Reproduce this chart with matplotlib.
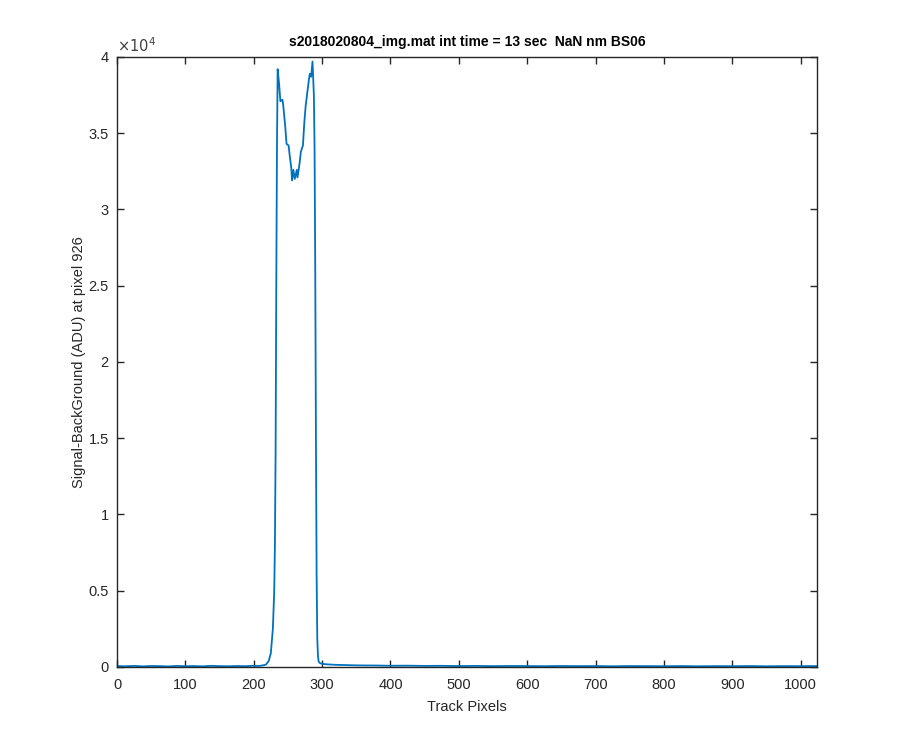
import matplotlib
matplotlib.use("Agg")
import matplotlib.pyplot as plt
from matplotlib.ticker import FuncFormatter

plt.rcParams["font.family"] = ["Liberation Sans", "DejaVu Sans"]

title = "s2018020804_img.mat int time = 13 sec  NaN nm BS06"
xlabel = "Track Pixels"
ylabel = "Signal-BackGround (ADU) at pixel 926"

# track pixel positions and signal values
pixels = [1, 12, 25, 38, 50, 63, 75, 88, 100, 113, 125, 138, 150, 163, 175,
          188, 200, 208, 214, 218, 222, 225, 228, 230, 231, 232, 233, 234,
          235, 237, 239, 242, 243, 246, 248, 251, 253, 255, 256, 258, 260,
          263, 264, 267, 269, 272, 274, 276, 279, 281, 282, 284, 286, 287,
          288, 289, 290, 291, 292, 293, 294, 295, 297, 300, 305,
          312, 320, 330, 345, 360, 380, 400, 425, 450, 475, 500, 525, 550,
          575, 600, 625, 650, 675, 700, 725, 750, 775, 800, 825, 850, 875,
          900, 925, 950, 975, 1000, 1012, 1024]
signal = [60, 45, 70, 40, 65, 55, 35, 70, 50, 60, 40, 75, 55, 45, 65,
          50, 80, 70, 110, 160, 400, 900, 2500, 5000, 8000, 14000, 25000, 34000,
          39200, 38300, 37100, 37200, 36900, 35500, 34300, 34200, 33400, 32700, 31900, 32600, 32000,
          32600, 32100, 33000, 33800, 34200, 35700, 36800, 37900, 38600, 38900, 38700, 39700, 38600,
          37500, 34000, 26000, 15000, 6000, 1800, 700, 350, 250, 210, 180,
          160, 140, 130, 110, 100, 95, 80, 85, 70, 75, 60, 70, 55,
          65, 60, 50, 65, 55, 60, 45, 60, 55, 50, 60, 45, 55,
          50, 60, 45, 55, 50, 60, 55]

fig = plt.figure(figsize=(9, 7.5), dpi=100)
ax = fig.add_axes([0.13, 0.1107, 0.7778, 0.8133])

ax.plot(pixels, signal, color="#0072BD", linewidth=1.3)

ax.set_xlim(0, 1024)
ax.set_ylim(0, 40000)
ax.set_xticks(range(0, 1001, 100))
ax.set_yticks([i * 5000 for i in range(9)])
ax.yaxis.set_major_formatter(FuncFormatter(lambda v, p: "%g" % (v / 1e4)))

ax.tick_params(direction="in", top=True, right=True, length=5, width=1,
               colors="#262626", labelsize=10.5)
ax.tick_params(axis="x", pad=8)
ax.tick_params(axis="y", pad=6)
for s in ax.spines.values():
    s.set_color("#262626")
    s.set_linewidth(1)

ax.text(0.0, 1.004, r"$\times10^{4}$", transform=ax.transAxes,
        fontsize=10.5, color="#404040", va="bottom", ha="left")
ax.set_title(title, fontsize=10, fontweight="bold", color="black", pad=8)
ax.set_xlabel(xlabel, fontsize=10.5, color="#262626", labelpad=6)
ax.set_ylabel(ylabel, fontsize=10.5, color="#262626", labelpad=2)

fig.savefig("out.png", dpi=100)
